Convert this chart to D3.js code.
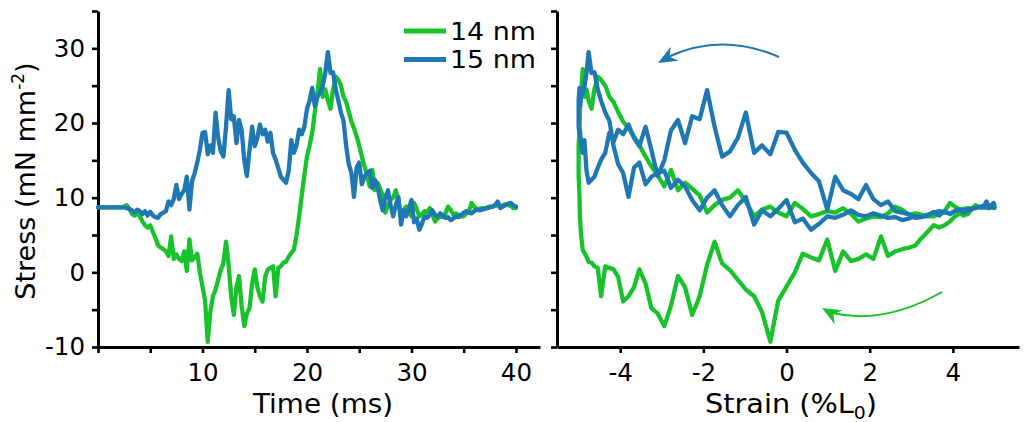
<!DOCTYPE html>
<html>
<head>
<meta charset="utf-8">
<script src="https://cdn.jsdelivr.net/npm/d3@7"></script>
<style>
  body { margin: 0; background: #fff; }
  text { font-family: "DejaVu Sans", Verdana, sans-serif; fill: #000; }
</style>
</head>
<body>
<svg id="chart" width="1024" height="422"></svg>
<script>
// Sampling times (ms), one sample every 0.25 ms
const time = [
  0, 0.25, 0.5, 0.75, 1, 1.25, 1.5, 1.75, 2, 2.25, 2.5, 2.75,
  3, 3.25, 3.5, 3.75, 4, 4.25, 4.5, 4.75, 5, 5.25, 5.5, 5.75,
  6, 6.25, 6.5, 6.75, 7, 7.25, 7.5, 7.75, 8, 8.25, 8.5, 8.75,
  9, 9.25, 9.5, 9.75, 10, 10.25, 10.5, 10.75, 11, 11.25, 11.5, 11.75,
  12, 12.25, 12.5, 12.75, 13, 13.25, 13.5, 13.75, 14, 14.25, 14.5, 14.75,
  15, 15.25, 15.5, 15.75, 16, 16.25, 16.5, 16.75, 17, 17.25, 17.5, 17.75,
  18, 18.25, 18.5, 18.75, 19, 19.25, 19.5, 19.75, 20, 20.25, 20.5, 20.75,
  21, 21.25, 21.5, 21.75, 22, 22.25, 22.5, 22.75, 23, 23.25, 23.5, 23.75,
  24, 24.25, 24.5, 24.75, 25, 25.25, 25.5, 25.75, 26, 26.25, 26.5, 26.75,
  27, 27.25, 27.5, 27.75, 28, 28.25, 28.5, 28.75, 29, 29.25, 29.5, 29.75,
  30, 30.25, 30.5, 30.75, 31, 31.25, 31.5, 31.75, 32, 32.25, 32.5, 32.75,
  33, 33.25, 33.5, 33.75, 34, 34.25, 34.5, 34.75, 35, 35.25, 35.5, 35.75,
  36, 36.25, 36.5, 36.75, 37, 37.25, 37.5, 37.75, 38, 38.25, 38.5, 38.75,
  39, 39.25, 39.5, 39.75, 40
];

// Imposed strain (%L0) at each sample
const strain = [
  5.00, 5.00, 4.98, 4.97, 4.94, 4.90, 4.86, 4.81, 4.76, 4.69, 4.62, 4.54,
  4.46, 4.36, 4.26, 4.16, 4.05, 3.93, 3.80, 3.67, 3.54, 3.39, 3.25, 3.10,
  2.94, 2.78, 2.61, 2.44, 2.27, 2.09, 1.91, 1.73, 1.55, 1.36, 1.17, 0.98,
  0.78, 0.59, 0.39, 0.20, 0.00, -0.20, -0.39, -0.59, -0.78, -0.98, -1.17, -1.36,
  -1.55, -1.73, -1.91, -2.09, -2.27, -2.44, -2.61, -2.78, -2.94, -3.10, -3.25, -3.39,
  -3.54, -3.67, -3.80, -3.93, -4.05, -4.16, -4.26, -4.36, -4.46, -4.54, -4.62, -4.69,
  -4.76, -4.81, -4.86, -4.90, -4.94, -4.97, -4.98, -5.00, -5.00, -5.00, -4.98, -4.97,
  -4.94, -4.90, -4.86, -4.81, -4.76, -4.69, -4.62, -4.54, -4.46, -4.36, -4.26, -4.16,
  -4.05, -3.93, -3.80, -3.67, -3.54, -3.39, -3.25, -3.10, -2.94, -2.78, -2.61, -2.44,
  -2.27, -2.09, -1.91, -1.73, -1.55, -1.36, -1.17, -0.98, -0.78, -0.59, -0.39, -0.20,
  0.00, 0.20, 0.39, 0.59, 0.78, 0.98, 1.17, 1.36, 1.55, 1.73, 1.91, 2.09,
  2.27, 2.44, 2.61, 2.78, 2.94, 3.10, 3.25, 3.39, 3.54, 3.67, 3.80, 3.93,
  4.05, 4.16, 4.26, 4.36, 4.46, 4.54, 4.62, 4.69, 4.76, 4.81, 4.86, 4.90,
  4.94, 4.97, 4.98, 5.00, 5.00
];

// Stress (mN mm^-2), 14 nm
const stress14 = [
  8.7, 8.7, 8.7, 8.7, 8.7, 8.7, 8.7, 8.7, 8.7, 8.7, 8.8, 9.0,
  8.5, 7.8, 7.6, 7.9, 7.5, 6.8, 6.3, 6.0, 6.3, 5.4, 4.6, 3.6,
  3.3, 3.1, 2.8, 2.2, 4.8, 1.8, 2.4, 1.8, 1.5, 2.8, 0.2, 4.4,
  1.6, 2.0, 2.5, 0.0, -1.9, -3.8, -9.3, -5.3, -3.2, -2.3, -1.0, 0.3,
  1.2, 4.1, 1.0, -3.2, -5.7, -2.0, -0.5, -4.5, -7.2, -5.5, -4.8, -1.5,
  0.4, -2.0, -3.2, -3.9, -0.6, 0.4, 0.6, 0.8, -3.2, 0.6, 0.8, 1.3,
  1.4, 2.1, 2.6, 3.0, 5.0, 7.5, 10.3, 13.0, 15.5, 17.0, 18.7, 21.5,
  24.0, 27.2, 23.5, 24.5, 23.0, 21.9, 24.5, 26.2, 25.8, 25.0, 23.5, 22.8,
  21.5, 20.2, 19.3, 18.2, 17.0, 15.5, 14.2, 13.0, 11.5, 13.7, 11.0, 12.0,
  11.2, 10.3, 8.0, 9.0, 9.7, 10.0, 11.0, 9.5, 7.5, 8.4, 8.8, 8.0,
  7.5, 9.3, 8.5, 7.5, 7.8, 8.2, 8.0, 8.6, 7.8, 6.8, 7.2, 7.5,
  7.4, 7.9, 8.8, 8.4, 7.7, 7.9, 7.7, 7.5, 7.5, 7.9, 8.2, 9.3,
  8.8, 8.4, 8.5, 8.6, 8.5, 8.7, 8.8, 8.8, 8.9, 9.0, 8.8, 9.0,
  9.1, 9.0, 8.9, 8.6, 8.6
];

// Stress (mN mm^-2), 15 nm
const stress15 = [
  8.7, 8.7, 8.7, 8.7, 8.7, 8.7, 8.7, 8.7, 8.7, 8.7, 8.7, 8.6,
  8.5, 8.3, 8.0, 8.4, 8.2, 7.8, 8.2, 7.6, 8.1, 7.6, 7.4, 7.3,
  7.8, 8.0, 8.2, 9.5, 9.0, 9.8, 11.7, 9.8, 10.5, 11.0, 12.8, 8.4,
  12.2, 13.3, 14.7, 16.4, 18.7, 18.8, 15.8, 17.0, 16.0, 21.4, 18.0, 16.2,
  15.5, 19.5, 24.4, 20.5, 20.9, 17.3, 20.4, 19.0, 15.0, 12.9, 16.4, 19.5,
  16.9, 18.0, 19.8, 18.5, 19.1, 17.5, 18.7, 16.0, 15.1, 14.0, 12.8, 12.4,
  12.0, 13.6, 17.7, 16.0, 17.0, 19.1, 18.5, 19.5, 21.9, 23.0, 24.7, 22.3,
  23.5, 24.0, 24.9, 26.7, 29.5, 26.7, 26.8, 24.5, 23.0, 21.4, 20.3, 16.9,
  14.5, 13.3, 10.1, 14.0, 14.7, 11.8, 12.8, 13.3, 13.6, 11.3, 12.4, 11.5,
  9.7, 8.3, 10.0, 11.0, 9.0, 7.5, 9.0, 10.1, 6.4, 8.3, 7.5, 8.5,
  9.7, 6.7, 7.2, 5.7, 6.5, 7.5, 7.3, 7.7, 8.3, 7.7, 7.5, 7.9,
  7.6, 7.3, 7.4, 7.0, 7.2, 7.5, 7.4, 7.7, 8.0, 8.2, 8.0, 7.9,
  8.2, 8.4, 8.3, 8.4, 8.5, 8.6, 8.7, 8.8, 9.0, 9.5, 8.6, 8.8,
  9.0, 9.2, 9.3, 9.0, 8.8
];

const seriesNames = ["14 nm", "15 nm"];
const seriesColors = ["#17c22b", "#1f77b4"];

// Axis ticks
const stressTicks = [-10, -5, 0, 5, 10, 15, 20, 25, 30, 35];
const stressTickLabels = [-10, 0, 10, 20, 30];
const timeTicks = [0, 5, 10, 15, 20, 25, 30, 35, 40];
const timeTickLabels = [10, 20, 30, 40];
const strainTicks = [-4, -2, 0, 2, 4];
const strainTickLabels = ["-4", "-2", "0", "2", "4"];

const svg = d3.select("#chart");
svg.append("rect").attr("width", 1024).attr("height", 422).attr("fill", "#fff");

const y = d3.scaleLinear().domain([-10, 35]).range([347, 11]);
const xTime = d3.scaleLinear().domain([0, 42.3]).range([98, 540]);
const xStrain = d3.scaleLinear().domain([-5.52, 5.59]).range([557, 1019]);

function styleAxis(g) {
  g.select(".domain").attr("stroke", "#000").attr("stroke-width", 3);
  g.selectAll(".tick line").attr("stroke", "#000").attr("stroke-width", 2.6);
  g.selectAll(".tick text").attr("font-size", 24.5).attr("fill", "#000")
    .attr("font-family", "DejaVu Sans, Verdana, sans-serif");
}

// Left panel: stress vs time
const yLeft = svg.append("g").attr("transform", "translate(98,0)")
  .call(d3.axisLeft(y).tickValues(stressTicks).tickSize(6).tickSizeOuter(0).tickPadding(7)
    .tickFormat(d => stressTickLabels.includes(d) ? String(d) : ""));
styleAxis(yLeft);

const xLeft = svg.append("g").attr("transform", "translate(0,347)")
  .call(d3.axisBottom(xTime).tickValues(timeTicks).tickSize(6).tickSizeOuter(0).tickPadding(11)
    .tickFormat(d => timeTickLabels.includes(d) ? String(d) : ""));
styleAxis(xLeft);

// Right panel: stress vs strain
const yRight = svg.append("g").attr("transform", "translate(557,0)")
  .call(d3.axisLeft(y).tickValues(stressTicks).tickSize(6).tickSizeOuter(0).tickFormat(() => ""));
styleAxis(yRight);

const xRight = svg.append("g").attr("transform", "translate(0,347)")
  .call(d3.axisBottom(xStrain).tickValues(strainTicks).tickSize(6).tickSizeOuter(0).tickPadding(11)
    .tickFormat((d, i) => strainTickLabels[i]));
styleAxis(xRight);

// Series: green drawn first, blue on top
const stressSets = [stress14, stress15];
const lineTime = d3.line().x(d => xTime(d.t)).y(d => y(d.s));
const lineStrain = d3.line().x(d => xStrain(d.e)).y(d => y(d.s));

stressSets.forEach((vals, k) => {
  const pts = vals.map((s, i) => ({ t: time[i], e: strain[i], s }));
  [lineTime, lineStrain].forEach(gen => {
    svg.append("path").datum(pts).attr("d", gen)
      .attr("fill", "none").attr("stroke", seriesColors[k]).attr("stroke-width", 4.3)
      .attr("stroke-linejoin", "round").attr("stroke-linecap", "round");
  });
});

// Legend
const legend = svg.append("g");
seriesNames.forEach((name, k) => {
  const ly = 31 + k * 28.5;
  legend.append("line").attr("x1", 404).attr("x2", 446).attr("y1", ly).attr("y2", ly)
    .attr("stroke", seriesColors[k]).attr("stroke-width", 5);
  legend.append("text").attr("x", 450).attr("y", ly + 8.5).attr("font-size", 24)
    .attr("textLength", 86).attr("lengthAdjust", "spacingAndGlyphs").text(name);
});

// Axis titles
svg.append("text").attr("x", 323).attr("y", 413).attr("text-anchor", "middle")
  .attr("font-size", 26).attr("textLength", 140).attr("lengthAdjust", "spacingAndGlyphs")
  .text("Time (ms)");

const st = svg.append("text").attr("x", 791).attr("y", 413).attr("text-anchor", "middle")
  .attr("font-size", 26).attr("textLength", 172).attr("lengthAdjust", "spacingAndGlyphs");
st.append("tspan").text("Strain (%L");
st.append("tspan").attr("font-size", 17).attr("dy", 6).text("0");
st.append("tspan").attr("dy", -6).text(")");

const yt = svg.append("text").attr("transform", "translate(35,181) rotate(-90)")
  .attr("text-anchor", "middle").attr("font-size", 27);
yt.append("tspan").text("Stress (mN mm");
yt.append("tspan").attr("font-size", 17).attr("dy", -11).text("-2");
yt.append("tspan").attr("dy", 11).text(")");

// Direction arrows along each loop
function arrow(path, tip, dir, color) {
  svg.append("path").attr("d", path).attr("fill", "none")
    .attr("stroke", color).attr("stroke-width", 2);
  const len = Math.hypot(dir[0], dir[1]);
  const ux = dir[0] / len, uy = dir[1] / len;   // pointing toward the tip
  const px = -uy, py = ux;
  const L = 19, Wd = 8, N = 13;
  const bx = tip[0] - ux * L, by = tip[1] - uy * L;
  const nx = tip[0] - ux * N, ny = tip[1] - uy * N;
  svg.append("path")
    .attr("d", `M${tip[0]},${tip[1]} L${bx + px * Wd},${by + py * Wd} L${nx},${ny} L${bx - px * Wd},${by - py * Wd} Z`)
    .attr("fill", color);
}
arrow("M779,57 Q722,32 668,57", [658, 63], [-1, 0.55], seriesColors[1]);
arrow("M942,292 Q884,325 832,313", [822, 308], [-0.874, -0.486], seriesColors[0]);
</script>
</body>
</html>
